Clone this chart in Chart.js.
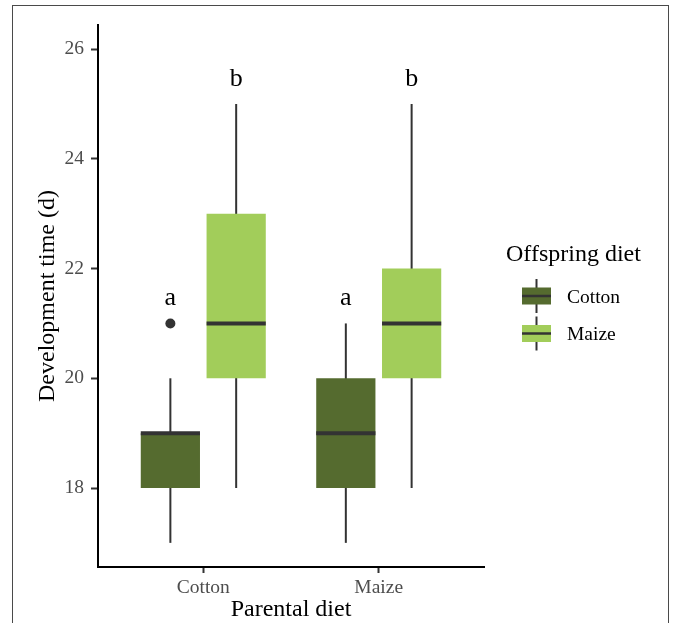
<!DOCTYPE html>
<html lang="en">
<head>
<meta charset="UTF-8">
<title>Development time</title>
<script src="https://cdn.jsdelivr.net/npm/chart.js@4.4.0/dist/chart.umd.min.js"></script>
<style>
    body { margin: 0; background: #fff; }
    .moldura { position: absolute; left: 12px; top: 5px; width: 655px; height: 700px; border: 1.5px solid #4a4a4a; }
    .grafico { position: absolute; left: 0; top: 0; }
</style>
</head>
<body>
<div class="moldura"></div>
<div class="grafico"><canvas id="boxplot" width="674" height="623"></canvas></div>

<script>
    // parental diet (x axis) and offspring diet (fill)
    var dietasParentais = ['Cotton', 'Maize'];
    var posicoesX = [1, 2];
    var ticksY = [18, 20, 22, 24, 26];

    // offspring fed cotton
    var minCotton = [17, 17];
    var q1Cotton = [18, 18];
    var medCotton = [19, 19];
    var q3Cotton = [19, 20];
    var maxCotton = [20, 21];
    var outCotton = [[21], []];
    var letraCotton = ['a', 'a'];

    // offspring fed maize
    var minMaize = [18, 18];
    var q1Maize = [20, 20];
    var medMaize = [21, 21];
    var q3Maize = [23, 22];
    var maxMaize = [25, 25];
    var outMaize = [[], []];
    var letraMaize = ['b', 'b'];

    var series = [
        { label: 'Cotton', cor: '#556B2F', min: minCotton, q1: q1Cotton, med: medCotton, q3: q3Cotton, max: maxCotton, out: outCotton, letra: letraCotton },
        { label: 'Maize', cor: '#A2CD5A', min: minMaize, q1: q1Maize, med: medMaize, q3: q3Maize, max: maxMaize, out: outMaize, letra: letraMaize }
    ];

    var fonte = 'Liberation Serif';

    var desenhaCaixas = {
        id: 'desenhaCaixas',
        beforeDatasetsDraw(chart) {
            var ctx = chart.ctx, y = chart.scales.y;
            ctx.save();
            ctx.strokeStyle = '#333333';
            ctx.lineWidth = 2;
            series.forEach(function (s, d) {
                chart.getDatasetMeta(d).data.forEach(function (bar, i) {
                    ctx.beginPath();
                    ctx.moveTo(bar.x, y.getPixelForValue(s.min[i]));
                    ctx.lineTo(bar.x, y.getPixelForValue(s.max[i]));
                    ctx.stroke();
                });
            });
            ctx.restore();
        },
        afterDatasetsDraw(chart) {
            var ctx = chart.ctx, y = chart.scales.y;
            ctx.save();
            series.forEach(function (s, d) {
                chart.getDatasetMeta(d).data.forEach(function (bar, i) {
                    // median
                    ctx.strokeStyle = '#333333';
                    ctx.lineWidth = 4;
                    ctx.beginPath();
                    ctx.moveTo(bar.x - bar.width / 2, y.getPixelForValue(s.med[i]));
                    ctx.lineTo(bar.x + bar.width / 2, y.getPixelForValue(s.med[i]));
                    ctx.stroke();
                    // outliers
                    ctx.fillStyle = '#333333';
                    s.out[i].forEach(function (v) {
                        ctx.beginPath();
                        ctx.arc(bar.x, y.getPixelForValue(v), 5, 0, Math.PI * 2);
                        ctx.fill();
                    });
                    // letters
                    var topo = Math.max.apply(null, [s.max[i]].concat(s.out[i]));
                    ctx.fillStyle = '#000';
                    ctx.font = '26px "' + fonte + '"';
                    ctx.textAlign = 'center';
                    ctx.textBaseline = 'alphabetic';
                    ctx.fillText(s.letra[i], bar.x, y.getPixelForValue(topo) - 18);
                });
            });
            ctx.restore();
        },
        afterDraw(chart) {
            // legend
            var ctx = chart.ctx;
            ctx.save();
            ctx.fillStyle = '#000';
            ctx.font = '24px "' + fonte + '"';
            ctx.textAlign = 'left';
            ctx.textBaseline = 'alphabetic';
            ctx.fillText('Offspring diet', 506, 261);
            series.forEach(function (s, k) {
                var cy = 296 + k * 37.5;
                ctx.strokeStyle = '#333333';
                ctx.lineWidth = 2;
                ctx.beginPath();
                ctx.moveTo(536.5, cy - 17);
                ctx.lineTo(536.5, cy + 17);
                ctx.stroke();
                ctx.fillStyle = s.cor;
                ctx.fillRect(522, cy - 8.5, 29, 17);
                ctx.lineWidth = 2.5;
                ctx.beginPath();
                ctx.moveTo(522, cy);
                ctx.lineTo(551, cy);
                ctx.stroke();
                ctx.fillStyle = '#000';
                ctx.font = '19.5px "' + fonte + '"';
                ctx.fillText(s.label, 567, cy + 6.7);
            });
            ctx.restore();
        }
    };

    var grafico = new Chart(document.getElementById('boxplot'), {
        type: 'bar',
        data: {
            datasets: series.map(function (s) {
                return {
                    label: s.label,
                    data: posicoesX.map(function (x, i) { return { x: x, y: [s.q1[i], s.q3[i]] }; }),
                    backgroundColor: s.cor,
                    borderWidth: 0,
                    borderSkipped: false,
                    categoryPercentage: 0.75,
                    barPercentage: 0.9
                };
            })
        },
        options: {
            responsive: false,
            animation: false,
            devicePixelRatio: 1,
            layout: { padding: { top: 25, right: 190, bottom: 0, left: 0 } },
            plugins: { legend: { display: false }, tooltip: { enabled: false } },
            scales: {
                x: {
                    type: 'linear',
                    min: 0.4,
                    max: 2.6,
                    offset: false,
                    afterBuildTicks: function (scale) { scale.ticks = posicoesX.map(function (v) { return { value: v }; }); },
                    afterFit: function (scale) { scale.height = 56; },
                    grid: { display: true, drawOnChartArea: false, offset: false, tickLength: 6, tickColor: '#333333', tickWidth: 2 },
                    border: { display: true, color: '#000', width: 2 },
                    ticks: {
                        autoSkip: false,
                        maxRotation: 0,
                        padding: 3,
                        color: '#4D4D4D',
                        font: { family: fonte, size: 19.5 },
                        callback: function (v) { return dietasParentais[posicoesX.indexOf(v)]; }
                    },
                    title: { display: true, text: 'Parental diet', color: '#000', font: { family: fonte, size: 24, lineHeight: 1 }, padding: { top: 0, bottom: 1 } }
                },
                y: {
                    min: 16.56,
                    max: 26.44,
                    stacked: false,
                    afterBuildTicks: function (scale) { scale.ticks = ticksY.map(function (v) { return { value: v }; }); },
                    afterFit: function (scale) { scale.width = 98; },
                    grid: { display: true, drawOnChartArea: false, tickLength: 7, tickColor: '#333333', tickWidth: 2 },
                    border: { display: true, color: '#000', width: 2 },
                    ticks: { padding: 7, color: '#4D4D4D', font: { family: fonte, size: 19.5 } },
                    title: { display: true, text: 'Development time (d)', color: '#000', font: { family: fonte, size: 24, lineHeight: 1 }, padding: { top: 36, bottom: 0 } }
                }
            }
        },
        plugins: [desenhaCaixas]
    });
</script>
</body>
</html>
